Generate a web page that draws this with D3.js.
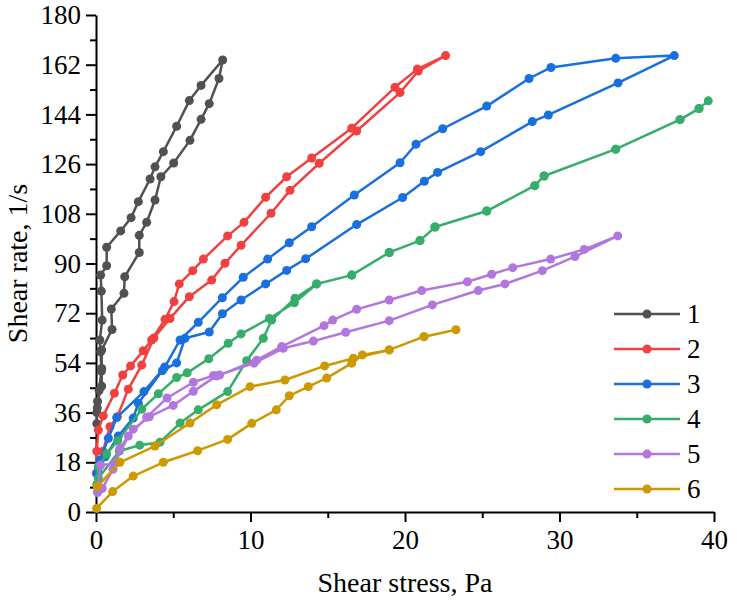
<!DOCTYPE html>
<html>
<head>
<meta charset="utf-8">
<script src="https://cdn.jsdelivr.net/npm/d3@7"></script>
<style>
  body { margin: 0; background: #fff; }
  text { font-family: "Liberation Serif", "Times New Roman", serif; fill: #000; }
</style>
</head>
<body>
<svg id="chart" width="737" height="606"></svg>
<script>
// series data, [shear stress Pa, shear rate 1/s], read along each loop
var seriesNames = ["1", "2", "3", "4", "5", "6"];
var seriesColors = ["#515151", "#F14040", "#1A6FDF", "#37AD6B", "#B177DE", "#CC9900"];

var s1 = [[0.05,36],[0.1,40],[0.37,45.6],[0.37,52],[0.37,58.7],[1.04,66.1],[0.99,73.5],[1.81,79.2],[1.86,85.2],
  [2.8,94],[2.8,100.2],[3.28,104.9],[3.82,113],[4.2,121.4],[5.03,126.4],[6.08,134.6],[6.8,142.2],[7.33,147.9],
  [7.96,157],[8.2,163.7],[6.8,154.5],[6.04,149],[5.22,139.7],[4.36,130.5],[3.82,125],[3.5,120.6],[2.74,112.4],
  [2.27,106.6],[1.6,101.8],[0.69,95.9],[0.69,89.2],[0.3,85.8],[0.35,80],[0.4,69.5],[0.25,62.3],[0.3,58],
  [0.35,51],[0.2,44],[0.08,37.7],[0.05,32]];
var s2 = [[0.02,14],[0.05,22],[0.15,29.7],[0.47,34.8],[1.19,43],[1.73,49.6],[2.24,52.9],[3.06,58.4],[3.6,62.3],
  [4.47,69.8],[5.05,76.2],[5.39,82.6],[6.26,87.4],[6.95,91.6],[8.52,100],[9.58,104.9],[10.98,114],[12.34,121.4],
  [13.96,128.2],[16.55,139],[19.35,153.8],[20.8,160.4],[22.63,165.3],[20.86,159.7],[19.68,151.9],[16.87,138],
  [14.45,126.3],[12.56,116.5],[11.33,108.2],[9.39,96.6],[8.35,90.1],[7.49,84],[6.04,78],[4.79,70.1],[3.75,63],
  [2.96,53.2],[2.09,44.5],[1.38,34.5],[0.9,30.9],[0.45,22],[0.15,16]];
var s3 = [[0.05,14],[0.26,18.8],[0.8,26.7],[1.34,34.2],[3.1,43.6],[4.45,52.5],[5.44,62.3],[6.62,68.7],[8.18,77.6],
  [9.53,85],[11.11,91.6],[12.51,97.5],[13.96,103.3],[16.72,114.8],[19.68,126.5],[20.71,133.2],[22.44,138.8],
  [25.29,147],[28.03,157],[29.45,161],[33.64,164.3],[37.43,165.3],[33.79,155.4],[29.28,143.8],[28.24,141.4],
  [24.9,130.5],[22.11,123],[21.25,119.8],[19.85,113.9],[16.87,104.1],[13.57,91.7],[12.34,87.5],[10.98,82.6],
  [9.39,76.8],[8.18,71.8],[7.33,65.2],[5.76,62.9],[5.22,54],[4.3,51.2],[2.74,39.4],[2.41,34],[1.44,27.5],
  [0.6,20],[0.1,14.5]];
var s4 = [[0.15,12.2],[1.51,22.1],[2.83,24.2],[4.14,25.3],[5.44,32.2],[6.62,37],[8.52,43.6],[9.75,54.8],
  [10.83,62.9],[11.37,69.5],[12.88,77.4],[14.28,82.6],[16.55,85.8],[18.98,94],[20.97,98.3],[21.94,103.2],
  [25.29,109],[28.4,118.2],[29.0,121.7],[33.64,131.4],[37.8,142.1],[39.03,146.1],[39.63,148.9],[39.03,146.1],
  [37.8,142.1],[33.64,131.4],[29.0,121.7],[28.4,118.2],[25.29,109],[21.94,103.2],[20.97,98.3],[18.98,94],
  [16.55,85.8],[14.28,82.6],[12.84,75.8],[11.22,70.1],[9.39,64.5],[8.56,61.1],[7.3,55.5],[5.9,50.4],[5.22,48.7],
  [4.03,42.8],[2.96,37.2],[1.4,25.8],[0.69,21],[0.15,16.4],[0.05,10]];
var s5 = [[0.1,7.4],[0.3,17],[1.2,17.5],[2.09,27.5],[3.28,34.3],[4.6,41.3],[6.3,47],[7.6,49.4],[8.0,49.6],
  [10.4,55],[12.02,59.9],[14.76,67.5],[15.32,69.5],[16.87,73.4],[18.98,76.8],[21.08,80.2],[24.04,83.4],
  [25.61,86.1],[26.97,88.5],[29.43,91.6],[31.6,95.1],[33.77,100],[31.0,92.5],[28.89,87.4],[26.47,82.6],
  [24.74,80.2],[21.77,75],[18.98,69.3],[16.16,65.1],[14.07,61.9],[12.12,59.3],[10.23,53.9],[7.8,49.3],
  [6.3,43.7],[5.0,38.6],[3.45,34.5],[2.41,30],[1.55,23.1],[1.1,15.5],[0.4,8.5],[0.1,7]];
var s6 = [[0.04,1.3],[1.08,7.4],[2.41,13],[4.36,18],[6.58,22.2],[8.52,26.3],[10.08,32.1],[11.67,37],[12.51,42.1],
  [13.74,45.4],[14.93,48.5],[16.55,53.9],[17.24,56.9],[18.98,58.7],[21.23,63.5],[23.3,66],[21.23,63.5],
  [18.98,58.7],[16.66,55.7],[14.8,52.9],[12.23,47.8],[9.97,45.4],[7.81,38.8],[6.08,32.2],[3.82,23.9],
  [1.55,18],[0.08,9.2]];
var allSeries = [s1, s2, s3, s4, s5, s6];

var xTicks = [0, 10, 20, 30, 40];
var xMinor = [5, 15, 25, 35];
var yTicks = [0, 18, 36, 54, 72, 90, 108, 126, 144, 162, 180];
var yMinor = [9, 27, 45, 63, 81, 99, 117, 135, 153, 171];

var width = 737, height = 606;
var margin = {top: 15, right: 23, bottom: 94, left: 96};

var svg = d3.select("#chart");

var x = d3.scaleLinear().domain([0, 40]).range([margin.left, width - margin.right]);
var y = d3.scaleLinear().domain([0, 180]).range([height - margin.bottom, margin.top]);

// minor ticks first, then major axis on top
svg.append("g")
  .attr("transform", "translate(0," + y(0) + ")")
  .call(d3.axisBottom(x).tickValues(xMinor).tickSize(6).tickFormat(""))
  .call(function(g) { g.select(".domain").remove(); });
svg.append("g")
  .attr("transform", "translate(" + x(0) + ",0)")
  .call(d3.axisLeft(y).tickValues(yMinor).tickSize(6).tickFormat(""))
  .call(function(g) { g.select(".domain").remove(); });

var xAxis = svg.append("g")
  .attr("transform", "translate(0," + y(0) + ")")
  .call(d3.axisBottom(x).tickValues(xTicks).tickSize(10).tickSizeOuter(0).tickPadding(8));
var yAxis = svg.append("g")
  .attr("transform", "translate(" + x(0) + ",0)")
  .call(d3.axisLeft(y).tickValues(yTicks).tickSize(10).tickSizeOuter(0).tickPadding(5));

svg.selectAll(".tick line, .domain").attr("stroke", "#000").attr("stroke-width", 2);
xAxis.selectAll("text").attr("font-size", 27).attr("font-family", "Liberation Serif");
yAxis.selectAll("text").attr("font-size", 27).attr("font-family", "Liberation Serif");

// axis titles
svg.append("text")
  .attr("x", (x(0) + x(40)) / 2)
  .attr("y", 592)
  .attr("text-anchor", "middle")
  .attr("font-size", 28)
  .text("Shear stress, Pa");
svg.append("text")
  .attr("transform", "translate(27," + (y(0) + y(180)) / 2 + ") rotate(-90)")
  .attr("text-anchor", "middle")
  .attr("font-size", 28)
  .text("Shear rate, 1/s");

var line = d3.line()
  .x(function(d) { return x(d[0]); })
  .y(function(d) { return y(d[1]); });

allSeries.forEach(function(data, i) {
  var g = svg.append("g");
  g.append("path")
    .datum(data)
    .attr("d", line)
    .attr("fill", "none")
    .attr("stroke", seriesColors[i])
    .attr("stroke-width", 2.5)
    .attr("stroke-linejoin", "round");
  g.selectAll("circle")
    .data(data)
    .enter()
    .append("circle")
    .attr("cx", function(d) { return x(d[0]); })
    .attr("cy", function(d) { return y(d[1]); })
    .attr("r", 4.5)
    .attr("fill", seriesColors[i]);
});

// legend
var legend = svg.append("g")
  .selectAll("g")
  .data(seriesNames)
  .enter()
  .append("g")
  .attr("transform", function(d, i) { return "translate(614," + (314 + i * 35) + ")"; });
legend.append("line")
  .attr("x1", 0).attr("x2", 66)
  .attr("stroke", function(d, i) { return seriesColors[i]; })
  .attr("stroke-width", 2.5);
legend.append("circle")
  .attr("cx", 33).attr("r", 4.5)
  .attr("fill", function(d, i) { return seriesColors[i]; });
legend.append("text")
  .attr("x", 73)
  .attr("dy", "0.35em")
  .attr("font-size", 27)
  .text(function(d) { return d; });
</script>
</body>
</html>
